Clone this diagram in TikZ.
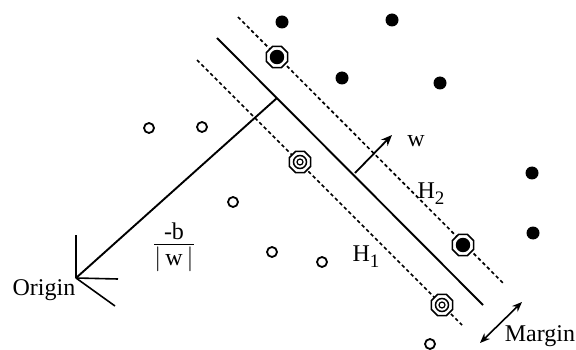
\documentclass[tikz,border=0pt]{standalone}
\usepackage{fontspec}
\setmainfont{Liberation Serif}
\usetikzlibrary{arrows.meta,shapes.geometric}
\begin{document}
\begin{tikzpicture}[x=1pt,y=-1pt,
  lbl/.style={inner sep=0pt,font=\fontsize{24}{28}\selectfont},
  plane/.style={line width=1.9pt},
  margline/.style={line width=1.7pt,dash pattern=on 3.5pt off 2.8pt},
  posdot/.style={circle,fill=black,minimum size=13pt,inner sep=0pt},
  negdot/.style={circle,draw=black,line width=1.8pt,minimum size=10pt,inner sep=0pt,fill=white},
  svout/.style={regular polygon,regular polygon sides=8,draw=black,line width=1.5pt,minimum size=23pt,inner sep=0pt,fill=white},
  svinpos/.style={circle,draw=black,line width=1.4pt,fill=black,minimum size=13pt,inner sep=0pt},
  svinneg/.style={circle,draw=black,line width=1.5pt,minimum size=13pt,inner sep=0pt},
  svcore/.style={circle,draw=black,line width=1.2pt,minimum size=6pt,inner sep=0pt},
  arr/.style={line width=1.8pt,-{Stealth[length=11pt,width=9pt]}},
  sub/.style={},
]
\useasboundingbox (0,0) rectangle (576,350);
% hyperplanes
\coordinate (hs) at (217,38);  \coordinate (he) at (483,305);
\coordinate (h2s) at (238,17); \coordinate (h2e) at (503,283);
\coordinate (h1s) at (197,60); \coordinate (h1e) at (462,325);
\draw[plane] (hs) -- (he);
\draw[margline] (h2s) -- (h2e);
\draw[margline] (h1s) -- (h1e);
% origin
\coordinate (O) at (76,278);
\coordinate (foot) at (277,98);
\coordinate (ax1) at (76,235);
\coordinate (ax2) at (118,279);
\coordinate (ax3) at (115,306);
\draw[plane] (foot) -- (O);
\draw[line width=1.6pt] (O) -- (ax1) (O) -- (ax2) (O) -- (ax3);
\node[lbl] (origin) at (44,290) {Origin};
\node[lbl] (frac) at (174,247) {\begin{tabular}{@{}c@{}}-b\\[-4pt]\hline\rule{0pt}{22pt}$|$\,w\,$|$\end{tabular}};
% w vector
\coordinate (ws) at (355,173); \coordinate (we) at (392,135);
\draw[arr] (ws) -- (we);
\node[lbl] (wl) at (416,141) {w};
\node[lbl] (H2) at (431,194) {H\raisebox{-6pt}{\fontsize{19}{20}\selectfont 2}};
\node[lbl] (H1) at (366,257) {H\raisebox{-6pt}{\fontsize{19}{20}\selectfont 1}};
% margin
\coordinate (m1) at (480,343); \coordinate (m2) at (522,302);
\draw[line width=1.6pt,{Stealth[length=10pt,width=8pt]}-{Stealth[length=10pt,width=8pt]}] (m1) -- (m2);
\node[lbl] (margin) at (540,336) {Margin};
% positive points
\node[posdot] (p1) at (282,22) {};
\node[posdot] (p2) at (392,20) {};
\node[posdot] (p3) at (342,78) {};
\node[posdot] (p4) at (440,83) {};
\node[posdot] (p5) at (532,173) {};
\node[posdot] (p6) at (533,233) {};
\node[svout] (sp1) at (277,57) {};
\node[svinpos] (sp1i) at (sp1.center) {};
\node[svout] (sp2) at (463,245) {};
\node[svinpos] (sp2i) at (sp2.center) {};
% negative points
\node[negdot] (n1) at (149,128) {};
\node[negdot] (n2) at (202,127) {};
\node[negdot] (n3) at (233,202) {};
\node[negdot] (n4) at (272,252) {};
\node[negdot] (n5) at (322,262) {};
\node[negdot] (n6) at (430,344) {};
\node[svout] (sn1) at (300,162) {};
\node[svinneg] (sn1i) at (sn1.center) {};
\node[svcore] (sn1c) at (sn1.center) {};
\node[svout] (sn2) at (442,305) {};
\node[svinneg] (sn2i) at (sn2.center) {};
\node[svcore] (sn2c) at (sn2.center) {};
\end{tikzpicture}
\end{document}
